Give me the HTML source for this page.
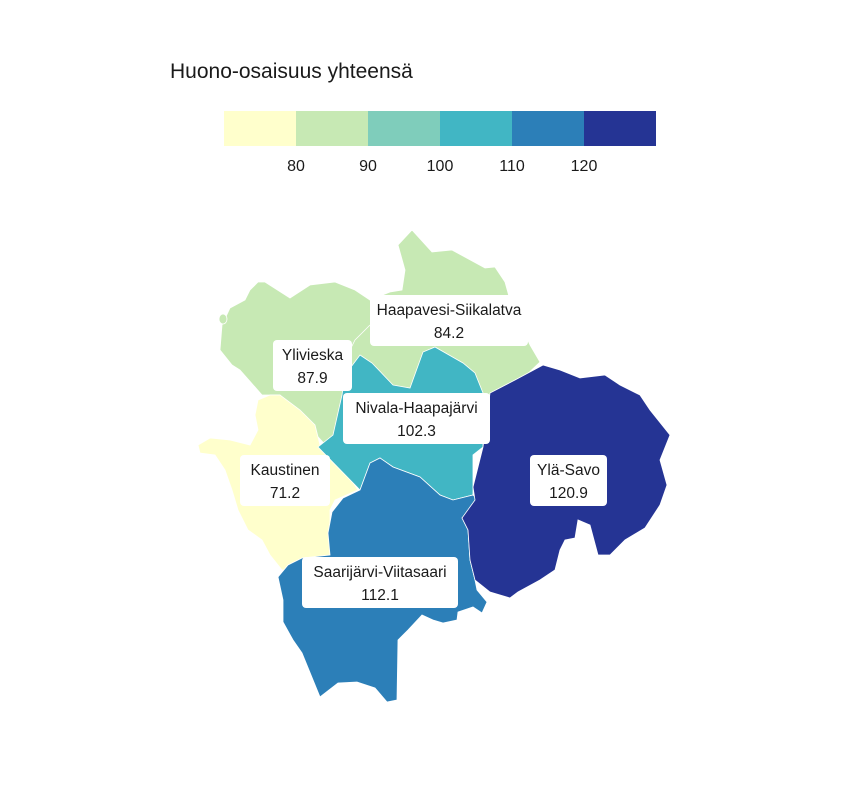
<!DOCTYPE html>
<html><head><meta charset="utf-8"><style>
body{margin:0;background:#fff;font-family:"Liberation Sans",sans-serif;}
</style></head><body>
<svg width="864" height="792" xmlns="http://www.w3.org/2000/svg">
<text x="170" y="78" font-size="21" fill="#1a1a1a">Huono-osaisuus yhteensä</text>
<g id="legend"></g>
<g stroke="#ffffff" stroke-width="0.8">
<polygon fill="#c7e9b4" points="412,230 432,252 452,250 485,268 495,267 505,282 510,300 530,345 540,362 500,400 470,450 330,450 280,395 262,395 240,370 232,365 220,350 222,325 230,308 245,300 250,290 258,282 265,282 290,298 310,285 335,282 355,290 370,300 390,292 402,290 405,270 398,245"/>
<ellipse cx="223" cy="319" rx="4" ry="5" fill="#c7e9b4"/>
<polyline fill="none" points="370,325 355,340 345,360"/>
<polygon fill="#ffffcc" points="270,395 280,395 300,410 315,425 320,445 330,445 348,475 358,490 335,500 330,510 330,555 315,565 298,568 282,570 270,555 262,540 248,530 238,510 232,490 225,470 215,455 200,453 198,445 210,438 230,440 250,445 258,430 255,415 258,400"/>
<polygon fill="#41b6c4" points="360,355 372,363 393,385 410,388 423,352 435,347 463,363 475,373 483,393 483,447 473,455 473,495 453,500 440,495 420,477 393,467 380,458 370,463 360,490 318,447 333,435 342,395 345,375"/>
<polygon fill="#2c7fb8" points="380,458 393,467 420,477 440,495 453,500 473,495 478,500 462,518 468,530 470,560 475,580 477,590 487,602 482,613 473,607 458,612 457,620 443,623 433,620 422,615 408,630 398,640 397,700 387,702 375,688 357,682 338,683 320,697 302,653 293,640 283,622 283,600 278,577 288,565 302,558 330,555 328,533 332,512 343,498 360,490 370,463"/>
<polygon fill="#253494" points="543,365 515,380 490,393 483,447 473,487 475,500 462,518 468,530 470,560 475,580 490,592 510,598 518,592 540,580 555,570 560,550 565,540 575,538 578,520 590,525 598,555 610,555 625,540 645,528 660,505 667,485 660,460 670,435 650,410 640,395 620,385 605,375 580,378 560,370"/>
</g>
<g id="labels" font-size="15.5" fill="#1a1a1a" text-anchor="middle"></g>
</svg>
<script>
const legendBreaks=[70,80,90,100,110,120,130];
const legendColors=['#ffffcc','#c7e9b4','#7fcdbb','#41b6c4','#2c7fb8','#253494'];
const legendTicks=[80,90,100,110,120];
const regionNames=['Haapavesi-Siikalatva','Ylivieska','Nivala-Haapajärvi','Kaustinen','Ylä-Savo','Saarijärvi-Viitasaari'];
const regionValues=[84.2,87.9,102.3,71.2,120.9,112.1];
const NS='http://www.w3.org/2000/svg';
const lx=v=>224+(v-70)*7.2;
const lg=document.getElementById('legend');
for(let i=0;i<legendColors.length;i++){
 const r=document.createElementNS(NS,'rect');
 r.setAttribute('x',lx(legendBreaks[i]));r.setAttribute('y',111);
 r.setAttribute('width',lx(legendBreaks[i+1])-lx(legendBreaks[i]));r.setAttribute('height',35);
 r.setAttribute('fill',legendColors[i]);
 
 
 lg.appendChild(r);
}
legendTicks.forEach(t=>{
 const tx=document.createElementNS(NS,'text');
 tx.setAttribute('x',lx(t));tx.setAttribute('y',171);tx.setAttribute('font-size','16');
 tx.setAttribute('text-anchor','middle');tx.setAttribute('fill','#1a1a1a');tx.textContent=t;
 
 
 lg.appendChild(tx);
});
const boxes=[[370,295,158],[273,340,79],[343,393,147],[240,455,90],[530,455,77],[302,557,156]];
const lb=document.getElementById('labels');
regionNames.forEach((n,i)=>{
 const [x,y,w]=boxes[i];
 const g=document.createElementNS(NS,'g');
 
 
 const r=document.createElementNS(NS,'rect');
 r.setAttribute('x',x);r.setAttribute('y',y);r.setAttribute('width',w);r.setAttribute('height',51);
 r.setAttribute('rx',4);r.setAttribute('fill','#fff');
 g.appendChild(r);
 const t1=document.createElementNS(NS,'text');
 t1.setAttribute('x',x+w/2);t1.setAttribute('y',y+20);t1.textContent=n;g.appendChild(t1);
 const t2=document.createElementNS(NS,'text');
 t2.setAttribute('x',x+w/2);t2.setAttribute('y',y+43);t2.textContent=regionValues[i].toFixed(1);g.appendChild(t2);
 lb.appendChild(g);
});
</script>
</body></html>
